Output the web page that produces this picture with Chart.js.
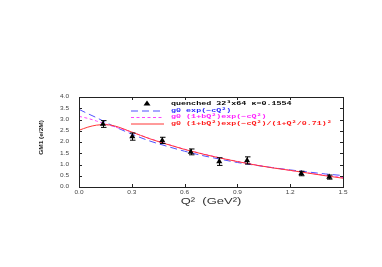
<!DOCTYPE html>
<html>
<head>
<meta charset="utf-8">
<script src="https://cdn.jsdelivr.net/npm/chart.js@4/dist/chart.umd.min.js"></script>
<style>
  html, body { margin: 0; padding: 0; background: #fff; }
  canvas { display: block; }
</style>
</head>
<body>
<canvas id="c" width="382" height="267"></canvas>
<script>
// lattice points (quenched 32^3x64, kappa=0.1554)
const qPts = [0.136, 0.303, 0.473, 0.635, 0.797, 0.955, 1.263, 1.422];
const gPts = [2.80, 2.24, 2.07, 1.56, 1.13, 1.18, 0.60, 0.44];
const gErr = [0.15, 0.16, 0.14, 0.13, 0.17, 0.16, 0.10, 0.09];

// fit curves
const qFit = [0, 0.05, 0.1, 0.15, 0.2, 0.3, 0.4, 0.5, 0.6, 0.7, 0.8, 0.9, 1.0, 1.1, 1.2, 1.3, 1.4, 1.5];
const fitExp = [3.45, 3.26, 3.08, 2.88, 2.69, 2.35, 2.05, 1.81, 1.59, 1.40, 1.24, 1.09, 0.97, 0.86, 0.76, 0.67, 0.58, 0.51];
const fitPolyExp = [3.14, 3.05, 2.93, 2.80, 2.68, 2.44, 2.16, 1.91, 1.68, 1.48, 1.30, 1.14, 0.99, 0.86, 0.74, 0.63, 0.52, 0.42];
const fitDipole = [2.52, 2.66, 2.75, 2.77, 2.72, 2.44, 2.15, 1.90, 1.67, 1.47, 1.29, 1.13, 0.98, 0.85, 0.74, 0.62, 0.50, 0.39];

const xTicks = [0, 0.3, 0.6, 0.9, 1.2, 1.5];
const xTickLabels = ['0.0', '0.3', '0.6', '0.9', '1.2', '1.5'];
const yTicks = [0, 0.5, 1, 1.5, 2, 2.5, 3, 3.5, 4];
const yTickLabels = ['0.0', '0.5', '1.0', '1.5', '2.0', '2.5', '3.0', '3.5', '4.0'];

const legendLabels = [
  'quenched 32\u00b3x64 \u03ba=0.1554',
  'g0 exp(\u2212cQ\u00b2)',
  'g0 (1+bQ\u00b2)exp(\u2212cQ\u00b2)',
  'g0 (1+bQ\u00b2)exp(\u2212cQ\u00b2)/(1+Q\u00b2/0.71)\u00b2'
];

const BLUE = '#5050ff', MAGENTA = '#ff44ff', RED = '#ff3636';
const BLUE_TXT = '#2a2aff', MAGENTA_TXT = '#ff22ff', RED_TXT = '#ff1a1a';

const toXY = (xs, ys) => xs.map((x, i) => ({ x: x, y: ys[i] }));

// squashed text, the reference glyphs are flattened vertically
function text(ctx, s, x, y, font, color, align, sy) {
  ctx.save();
  ctx.translate(x, y);
  ctx.scale(1, sy);
  ctx.font = font;
  ctx.fillStyle = color;
  ctx.textAlign = align;
  ctx.textBaseline = 'middle';
  ctx.fillText(s, 0, 0);
  ctx.restore();
}

const framePlugin = {
  id: 'frame',
  afterDraw(chart) {
    const ctx = chart.ctx, a = chart.chartArea;
    const xs = chart.scales.x, ys = chart.scales.y;
    ctx.save();
    ctx.strokeStyle = '#222';
    ctx.lineWidth = 1;
    ctx.strokeRect(Math.round(a.left) + 0.5, Math.round(a.top) + 0.5,
      Math.round(a.right - a.left), Math.round(a.bottom - a.top));
    ctx.beginPath();
    yTicks.forEach(v => {
      const py = Math.round(ys.getPixelForValue(v)) + 0.5;
      ctx.moveTo(a.left, py); ctx.lineTo(a.left + 3, py);
      ctx.moveTo(a.right, py); ctx.lineTo(a.right - 3, py);
    });
    xTicks.forEach(v => {
      const px = Math.round(xs.getPixelForValue(v)) + 0.5;
      ctx.moveTo(px, a.bottom); ctx.lineTo(px, a.bottom - 3);
      ctx.moveTo(px, a.top); ctx.lineTo(px, a.top + 3);
    });
    ctx.stroke();
    ctx.restore();

    const tf = '6.5px "Liberation Sans", Arial, sans-serif';
    yTicks.forEach((v, i) => text(ctx, yTickLabels[i], a.left - 10, ys.getPixelForValue(v), tf, '#444', 'right', 0.75));
    xTicks.forEach((v, i) => text(ctx, xTickLabels[i], xs.getPixelForValue(v), a.bottom + 6, tf, '#444', 'center', 0.75));

    // axis titles
    text(ctx, 'Q\u00b2  (GeV\u00b2)', (a.left + a.right) / 2, a.bottom + 14, '13px "Liberation Sans", Arial, sans-serif', '#333', 'center', 0.7);
    ctx.save();
    ctx.translate(41.5, 137.5);
    ctx.rotate(-Math.PI / 2);
    ctx.scale(1, 0.8);
    ctx.font = 'bold 6.5px "Liberation Sans", Arial, sans-serif';
    ctx.fillStyle = '#222';
    ctx.textAlign = 'center';
    ctx.textBaseline = 'middle';
    ctx.fillText('GM1 (e/2M)', 0, 0);
    ctx.restore();
  }
};

const errorBarPlugin = {
  id: 'errbars',
  afterDatasetsDraw(chart) {
    const ctx = chart.ctx, xs = chart.scales.x, ys = chart.scales.y;
    ctx.save();
    ctx.strokeStyle = '#000';
    ctx.lineWidth = 1;
    ctx.beginPath();
    qPts.forEach((q, i) => {
      const px = Math.round(xs.getPixelForValue(q)) + 0.5;
      const top = ys.getPixelForValue(gPts[i] + gErr[i]);
      const bot = ys.getPixelForValue(gPts[i] - gErr[i]);
      ctx.moveTo(px, top); ctx.lineTo(px, bot);
      ctx.moveTo(px - 2.5, top); ctx.lineTo(px + 3, top);
      ctx.moveTo(px - 2.5, bot); ctx.lineTo(px + 3, bot);
    });
    ctx.stroke();
    ctx.restore();
  }
};

const legendPlugin = {
  id: 'inlegend',
  afterDraw(chart) {
    const ctx = chart.ctx;
    const rows = [103.5, 110.5, 117, 123.5];
    const tx = 171, lx0 = 131, lx1 = 164;
    const lf = 'bold 8.4px "Liberation Mono", "Courier New", monospace';
    // triangle swatch
    ctx.save();
    ctx.fillStyle = '#000';
    ctx.beginPath();
    ctx.moveTo(147, rows[0] - 3);
    ctx.lineTo(150.5, rows[0] + 2);
    ctx.lineTo(143.5, rows[0] + 2);
    ctx.closePath();
    ctx.fill();
    // line swatches
    const sw = [[BLUE, [7, 4]], [MAGENTA, [3, 2.5]], [RED, []]];
    sw.forEach((s, i) => {
      ctx.strokeStyle = s[0];
      ctx.setLineDash(s[1]);
      ctx.lineWidth = 1;
      ctx.beginPath();
      ctx.moveTo(lx0, rows[i + 1] + 0.5);
      ctx.lineTo(lx1, rows[i + 1] + 0.5);
      ctx.stroke();
    });
    ctx.restore();
    const cols = ['#000', BLUE_TXT, MAGENTA_TXT, RED_TXT];
    legendLabels.forEach((s, i) => text(ctx, s, tx, rows[i], lf, cols[i], 'left', 0.7));
  }
};

new Chart(document.getElementById('c').getContext('2d'), {
  type: 'line',
  data: {
    datasets: [
      {
        label: legendLabels[0],
        data: toXY(qPts, gPts),
        showLine: false,
        pointStyle: 'triangle',
        pointRadius: 3.5,
        backgroundColor: '#000',
        borderColor: '#000',
        borderWidth: 0
      },
      {
        label: legendLabels[3],
        data: toXY(qFit, fitDipole),
        borderColor: RED,
        borderWidth: 1,
        pointRadius: 0,
        cubicInterpolationMode: 'monotone'
      },
      {
        label: legendLabels[2],
        data: toXY(qFit, fitPolyExp),
        borderColor: MAGENTA,
        borderWidth: 1,
        borderDash: [3, 2.5],
        pointRadius: 0,
        cubicInterpolationMode: 'monotone'
      },
      {
        label: legendLabels[1],
        data: toXY(qFit, fitExp),
        borderColor: BLUE,
        borderWidth: 1,
        borderDash: [7, 4],
        pointRadius: 0,
        cubicInterpolationMode: 'monotone'
      }
    ]
  },
  options: {
    responsive: false,
    animation: false,
    layout: { padding: { top: 97, right: 39, left: 0, bottom: 0 } },
    plugins: { legend: { display: false }, tooltip: { enabled: false } },
    scales: {
      x: {
        type: 'linear', min: 0, max: 1.5,
        ticks: { display: false, stepSize: 0.3 },
        grid: { display: false }, border: { display: false },
        afterFit: s => { s.height = 80; }
      },
      y: {
        min: 0, max: 4,
        ticks: { display: false, stepSize: 0.5 },
        grid: { display: false }, border: { display: false },
        afterFit: s => { s.width = 79; }
      }
    }
  },
  plugins: [framePlugin, errorBarPlugin, legendPlugin]
});
</script>
</body>
</html>
